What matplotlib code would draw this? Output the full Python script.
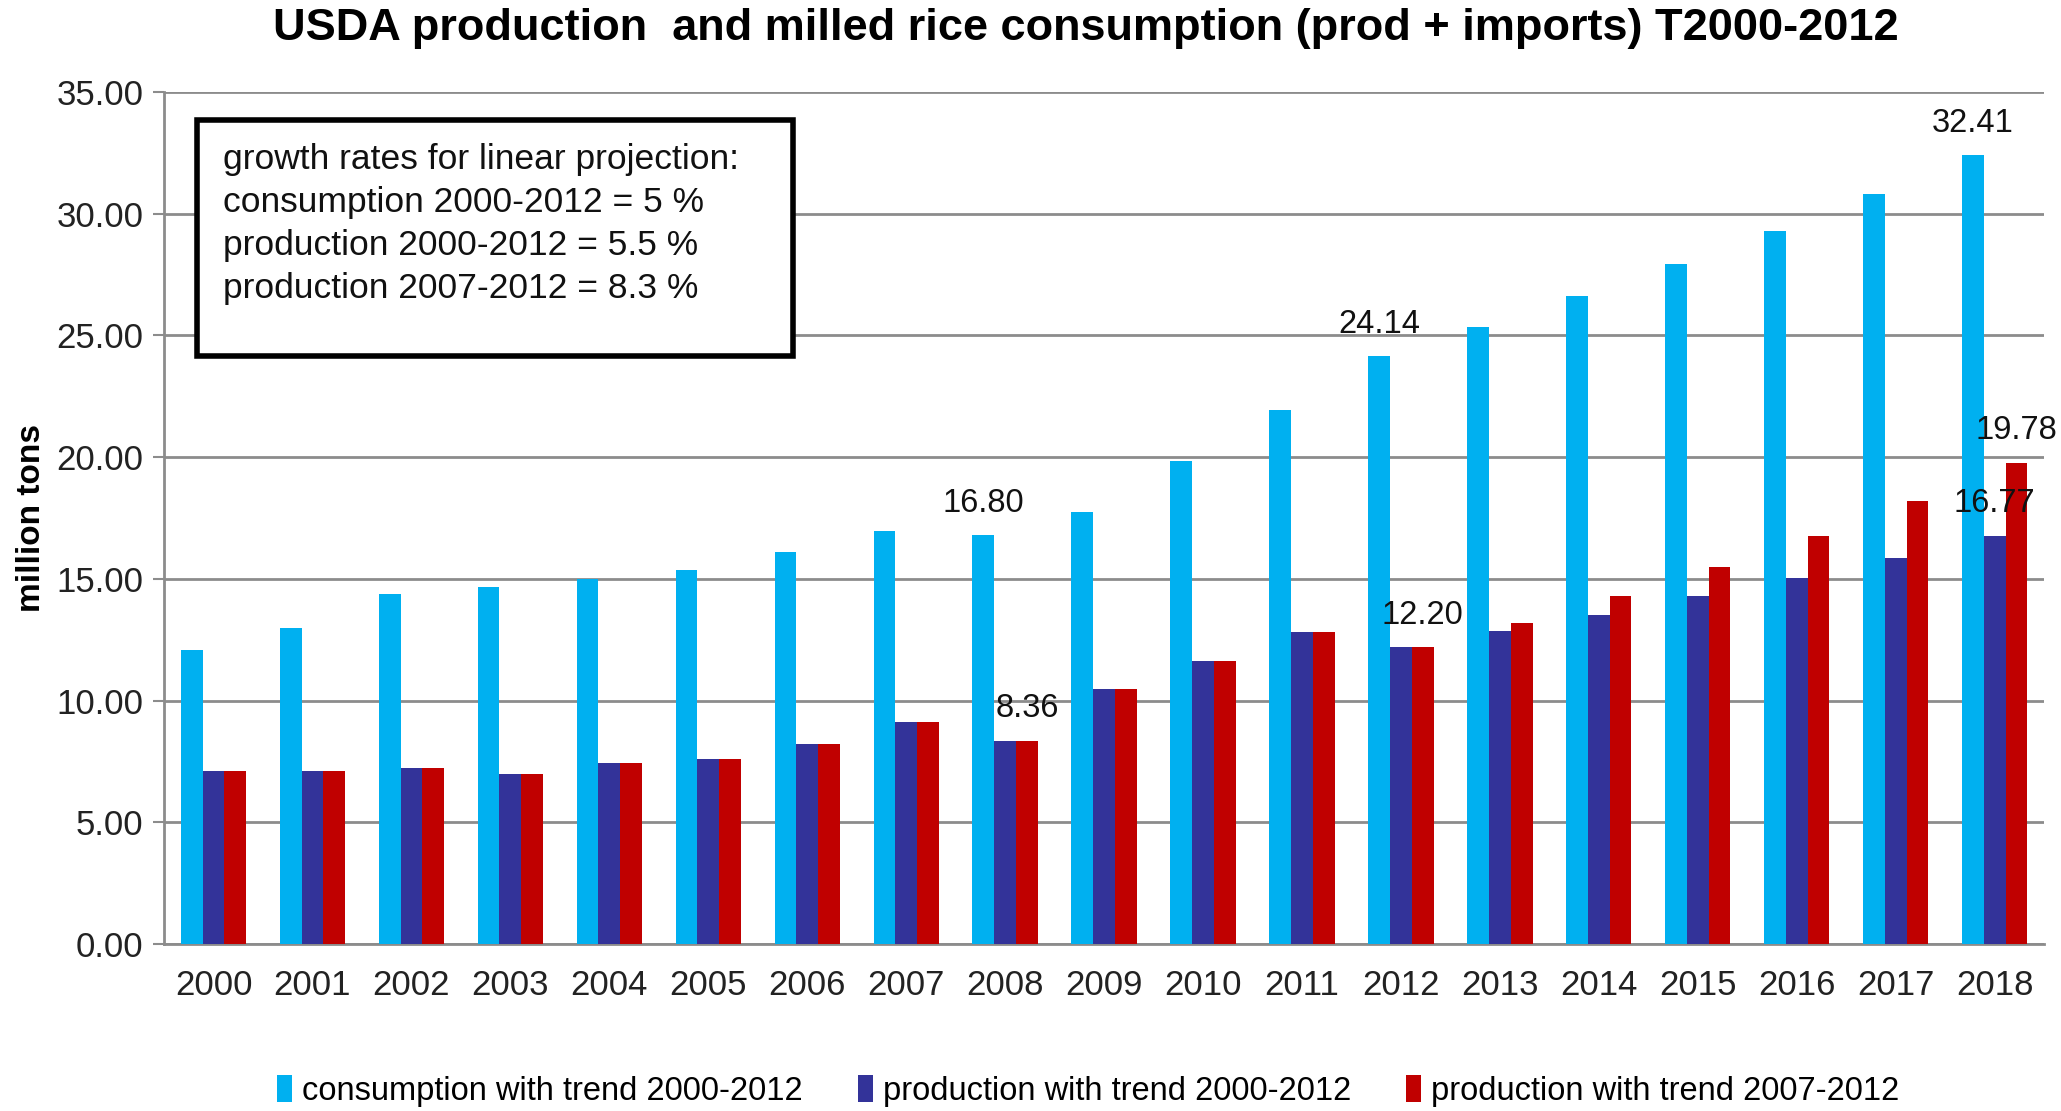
import numpy as np
import matplotlib
matplotlib.use('Agg')
import matplotlib.pyplot as plt
from matplotlib.patches import Patch, Rectangle

plt.rcParams['font.family'] = ['Liberation Sans', 'DejaVu Sans']

# values (million tons)
years = [str(y) for y in range(2000, 2019)]
consumption = [12.07, 13.00, 14.38, 14.68, 15.00, 15.35, 16.09, 16.98, 16.80, 17.75,
               19.83, 21.93, 24.14, 25.35, 26.62, 27.95, 29.31, 30.82, 32.41]
prod_trend_2000 = [7.11, 7.11, 7.21, 7.00, 7.42, 7.59, 8.23, 9.14, 8.36, 10.48,
                   11.64, 12.80, 12.20, 12.85, 13.50, 14.29, 15.05, 15.86, 16.77]
prod_trend_2007 = [7.11, 7.11, 7.21, 7.00, 7.42, 7.59, 8.23, 9.14, 8.36, 10.48,
                   11.64, 12.80, 12.20, 13.19, 14.29, 15.49, 16.78, 18.19, 19.78]

series_names = ['consumption with trend 2000-2012',
                'production with trend 2000-2012',
                'production with trend 2007-2012']
colors = ['#00B0F0', '#333399', '#C00000']

# which bars carry a value label: (series index, year index)
labelled = [(0, 8), (2, 8), (0, 12), (2, 12), (0, 18), (1, 18), (2, 18)]

box_lines = ['growth rates for linear projection:',
             'consumption 2000-2012 = 5 %',
             'production 2000-2012 = 5.5 %',
             'production 2007-2012 = 8.3 %']

fig = plt.figure(figsize=(20.61, 11.11), dpi=100)
ax = fig.add_axes([0.0796, 0.1503, 0.9122, 0.7669])

x = np.arange(len(years))
w = 0.22
data = [consumption, prod_trend_2000, prod_trend_2007]
for i, (vals, c) in enumerate(zip(data, colors)):
    ax.bar(x + (i - 1) * w, vals, width=w, color=c, zorder=3)

for s, k in labelled:
    ax.annotate('%.2f' % data[s][k], xy=(x[k] + (s - 1) * w, data[s][k]),
                xytext=(0, 23), textcoords='offset points',
                ha='center', va='center', fontsize=23.5, color='#111111')

ax.set_xlim(-0.5, len(years) - 0.5)
ax.set_ylim(0, 35)
ax.set_yticks(np.arange(0, 35.1, 5))
ax.set_yticklabels(['%.2f' % v for v in np.arange(0, 35.1, 5)])
ax.set_xticks(x)
ax.set_xticklabels(years)
ax.grid(axis='y', color='#8c8c8c', linewidth=2, zorder=0)
ax.tick_params(axis='y', length=8, width=1.5, color='#8c8c8c', pad=7,
               labelsize=25, labelcolor='#222222')
ax.tick_params(axis='x', length=0, pad=18, labelsize=25, labelcolor='#222222')
for side in ['top', 'right']:
    ax.spines[side].set_visible(False)
for side in ['left', 'bottom']:
    ax.spines[side].set_color('#8c8c8c')
    ax.spines[side].set_linewidth(2)

ax.set_ylabel('million tons', fontsize=24, fontweight='bold')
ax.yaxis.set_label_coords(-0.062, 0.5)

# text box with growth rates
ax.add_patch(Rectangle((0.0176, 0.690), 0.317, 0.277, transform=ax.transAxes,
                       fill=True, facecolor='white', edgecolor='black',
                       linewidth=4, zorder=4))
ax.text(0.0314, 0.940, '\n'.join(box_lines), transform=ax.transAxes,
        ha='left', va='top', fontsize=25.5, linespacing=1.38, zorder=5,
        color='#111111')

fig.suptitle('USDA production  and milled rice consumption (prod + imports) T2000-2012',
             x=0.527, y=0.974, va='center', fontsize=32.5, fontweight='bold')

handles = [Patch(facecolor=c) for c in colors]
fig.legend(handles, series_names, loc='center', bbox_to_anchor=(0.528, 0.018),
           ncol=3, frameon=False, fontsize=23.5, handlelength=0.45, handleheight=0.9,
           handletextpad=0.3, columnspacing=1.7)

fig.savefig('out.png', dpi=100)
